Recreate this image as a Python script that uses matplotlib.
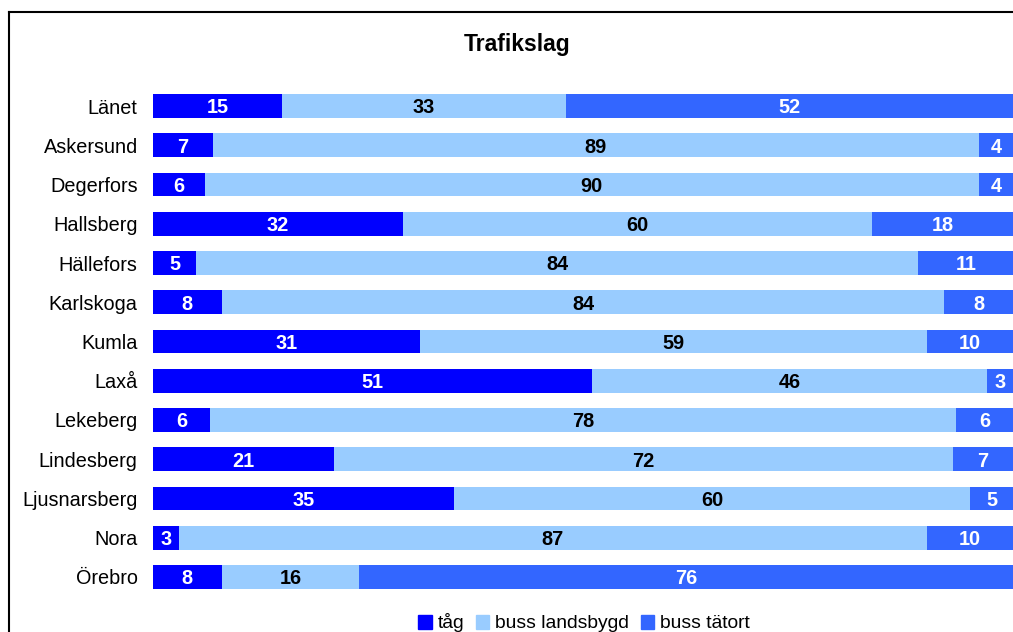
import matplotlib.pyplot as plt
import numpy as np
from matplotlib.lines import Line2D

kommuner = ["Länet", "Askersund", "Degerfors", "Hallsberg", "Hällefors", "Karlskoga",
            "Kumla", "Laxå", "Lekeberg", "Lindesberg", "Ljusnarsberg", "Nora", "Örebro"]
tag = [15, 7, 6, 32, 5, 8, 31, 51, 6, 21, 35, 3, 8]
buss_landsbygd = [33, 89, 90, 60, 84, 84, 59, 46, 78, 72, 60, 87, 16]
buss_tatort = [52, 4, 4, 18, 11, 8, 10, 3, 6, 7, 5, 10, 76]

series = [("tåg", tag, "#0000FF", "white"),
          ("buss landsbygd", buss_landsbygd, "#99CCFF", "black"),
          ("buss tätort", buss_tatort, "#3366FF", "white")]

plt.rcParams['font.family'] = ['Liberation Sans', 'DejaVu Sans']
fs = 14.3

fig = plt.figure(figsize=(10.13, 6.32), dpi=100)
ax = fig.add_axes([153 / 1013, 1 - 596.6 / 632, 1 - 153 / 1013, (596.6 - 86.4) / 632])

totals = np.array(tag) + np.array(buss_landsbygd) + np.array(buss_tatort)
y = np.arange(len(kommuner))
left = np.zeros(len(kommuner))
for name, vals, col, tcol in series:
    share = np.array(vals) / totals * 100
    ax.barh(y, share, left=left, height=0.61, color=col, label=name)
    for yi, l, w, v in zip(y, left, share, vals):
        ax.text(l + w / 2, yi + 0.05, str(v), ha="center", va="center",
                color=tcol, fontweight="bold", fontsize=fs)
    left += share

ax.set_xlim(0, 100)
ax.set_ylim(len(kommuner) - 0.5, -0.5)
ax.set_yticks(y)
ax.set_yticklabels(kommuner, fontsize=fs)
ax.tick_params(axis="y", length=0, pad=11)
ax.set_xticks([])
for s in ax.spines.values():
    s.set_visible(False)

fig.text(517 / 1013, 1 - 45 / 632, "Trafikslag", ha="center", va="center",
         fontweight="bold", fontsize=16.5)

handles = [plt.Rectangle((0, 0), 1, 1, color=c) for _, _, c, _ in series]
fig.legend(handles, [n for n, _, _, _ in series], loc="center",
           bbox_to_anchor=(584 / 1013, 1 - 623 / 632), ncol=3, frameon=False,
           fontsize=13.9, handlelength=0.7, handleheight=0.7, handletextpad=0.3,
           columnspacing=0.6)

# chart frame (left and top edge)
fig.add_artist(Line2D([8.5 / 1013, 8.5 / 1013], [0, 1 - 12 / 632], color="black", lw=1.5))
fig.add_artist(Line2D([8.5 / 1013, 1], [1 - 12 / 632, 1 - 12 / 632], color="black", lw=1.5))

fig.savefig("out.png", dpi=100)
